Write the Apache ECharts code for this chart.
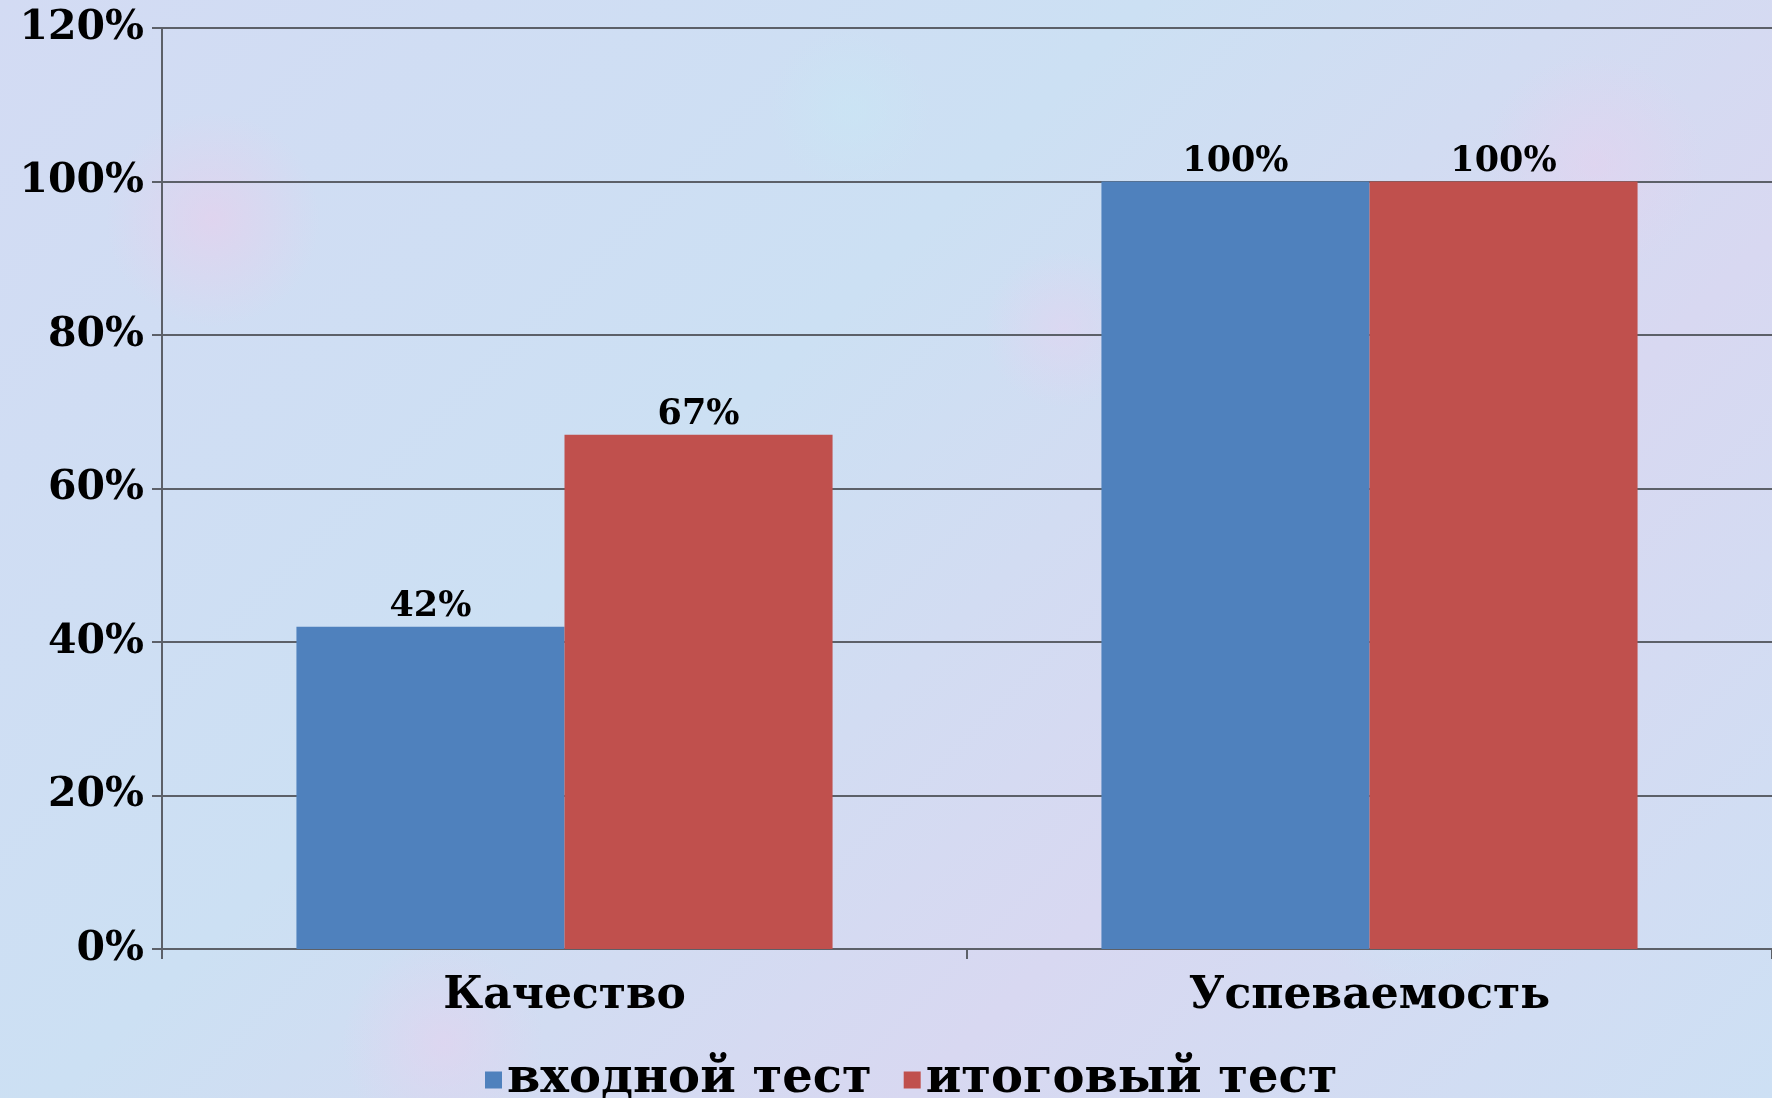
<!DOCTYPE html>
<html>
<head>
<meta charset="utf-8">
<script src="https://cdn.jsdelivr.net/npm/echarts@6/dist/echarts.min.js"></script>
<style>
html,body{margin:0;padding:0;width:1772px;height:1098px;overflow:hidden;}
body{
  background-color:#d0dcf3;
  background-image:
    radial-gradient(circle at 12% 20%, rgba(235,205,235,0.55) 0, rgba(235,205,235,0) 6%),
    radial-gradient(circle at 35% 70%, rgba(200,235,245,0.6) 0, rgba(200,235,245,0) 7%),
    radial-gradient(circle at 60% 30%, rgba(230,210,240,0.5) 0, rgba(230,210,240,0) 6%),
    radial-gradient(circle at 80% 80%, rgba(200,232,245,0.6) 0, rgba(200,232,245,0) 7%),
    radial-gradient(circle at 90% 15%, rgba(232,208,238,0.5) 0, rgba(232,208,238,0) 6%),
    radial-gradient(circle at 25% 95%, rgba(232,208,238,0.5) 0, rgba(232,208,238,0) 6%),
    radial-gradient(circle at 48% 10%, rgba(200,232,245,0.5) 0, rgba(200,232,245,0) 6%),
    radial-gradient(circle at 70% 55%, rgba(232,208,238,0.45) 0, rgba(232,208,238,0) 6%),
    linear-gradient(135deg, #d3dbf3 0%, #cce0f3 40%, #d8d8f1 70%, #cde0f4 100%);
}
#chart{width:1772px;height:1098px;}
</style>
</head>
<body>
<div id="chart"></div>
<script>
var categories = ['Качество', 'Успеваемость'];
var seriesNames = ['входной тест', 'итоговый тест'];
var entryTest = [42, 100];
var finalTest = [67, 100];
var yTicks = [0, 20, 40, 60, 80, 100, 120];

var font = 'DejaVu Serif';
var chart = echarts.init(document.getElementById('chart'), null, {renderer: 'canvas'});
var axisColor = '#5c6068';
chart.setOption({
  backgroundColor: 'transparent',
  animation: false,
  grid: {left: 162, top: 28, width: 1615, height: 921, containLabel: false},
  legend: {
    data: seriesNames,
    left: 480, top: 1048,
    icon: 'rect', itemWidth: 17, itemHeight: 17, itemGap: 32,
    textStyle: {fontFamily: font, fontWeight: 'bold', fontSize: 48, color: '#000', lineHeight: 54}
  },
  xAxis: {
    type: 'category',
    data: categories,
    axisLine: {lineStyle: {color: axisColor, width: 2}},
    axisTick: {show: true, length: 10, lineStyle: {color: axisColor, width: 2}},
    axisLabel: {fontFamily: font, fontWeight: 'bold', fontSize: 44, color: '#000', margin: 26}
  },
  yAxis: {
    type: 'value',
    min: yTicks[0], max: yTicks[yTicks.length - 1], interval: 20,
    axisLine: {show: true, lineStyle: {color: axisColor, width: 2}},
    axisTick: {show: true, length: 10, lineStyle: {color: axisColor, width: 2}},
    splitLine: {show: true, lineStyle: {color: axisColor, width: 2}},
    axisLabel: {formatter: '{value}%', fontFamily: font, fontWeight: 'bold', fontSize: 41, color: '#000', margin: 18}
  },
  series: [
    {
      name: seriesNames[0], type: 'bar', data: entryTest,
      barGap: '0%', barCategoryGap: '33.4%',
      itemStyle: {color: '#4f81bd'},
      label: {show: true, position: 'top', distance: 2, formatter: '{c}%', fontFamily: font, fontWeight: 'bold', fontSize: 35, color: '#000'}
    },
    {
      name: seriesNames[1], type: 'bar', data: finalTest,
      barGap: '0%', barCategoryGap: '33.4%',
      itemStyle: {color: '#c0504d'},
      label: {show: true, position: 'top', distance: 2, formatter: '{c}%', fontFamily: font, fontWeight: 'bold', fontSize: 35, color: '#000'}
    }
  ]
});
</script>
</body>
</html>
